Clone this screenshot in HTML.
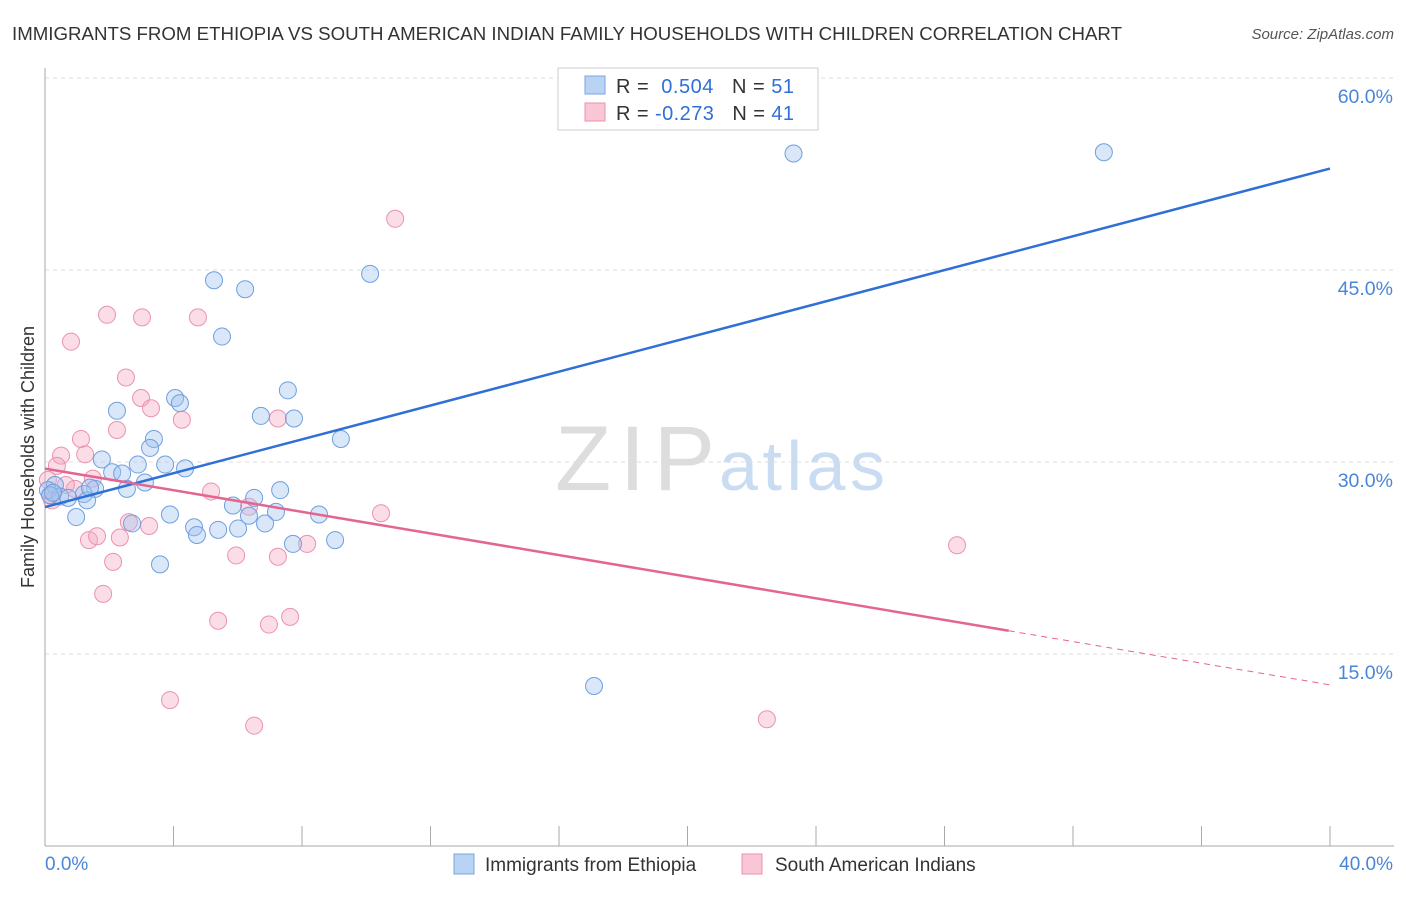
<!DOCTYPE html>
<html><head><meta charset="utf-8"><style>
body{margin:0;background:#fff;font-family:"Liberation Sans",sans-serif}
svg text{font-family:"Liberation Sans",sans-serif}
</style></head><body>
<svg id="c" width="1406" height="892">
<text x="12" y="40" font-size="18" fill="#333" textLength="1110" lengthAdjust="spacingAndGlyphs">IMMIGRANTS FROM ETHIOPIA VS SOUTH AMERICAN INDIAN FAMILY HOUSEHOLDS WITH CHILDREN CORRELATION CHART</text>
<text x="1394" y="39" font-size="15" fill="#555" font-style="italic" text-anchor="end">Source: ZipAtlas.com</text>
<text x="34" y="457" font-size="18" fill="#333" transform="rotate(-90 34 457)" text-anchor="middle">Family Households with Children</text>
<text x="635" y="490" font-size="92" fill="#ddd" font-family="Liberation Serif" text-anchor="middle" textLength="160">ZIP</text>
<text x="802" y="490" font-size="70" fill="#c9dcf2" text-anchor="middle" textLength="166">atlas</text>
<g id="grid"></g><g id="pts"></g><g id="lines"></g>
<g>
<rect x="558" y="68" width="260" height="62" fill="#fff" stroke="#ccc"/>
<rect x="585" y="76" width="20" height="18" fill="#b9d3f5" stroke="#7aa6e0"/>
<text x="616" y="93" font-size="20" fill="#333" textLength="178">R = <tspan fill="#2f6fd6">&#160;0.504</tspan>&#160;&#160;&#160;N = <tspan fill="#2f6fd6">51</tspan></text>
<rect x="585" y="103" width="20" height="18" fill="#f9c6d5" stroke="#ec92ad"/>
<text x="616" y="120" font-size="20" fill="#333" textLength="178">R = <tspan fill="#2f6fd6">-0.273</tspan>&#160;&#160;&#160;N = <tspan fill="#2f6fd6">41</tspan></text>
</g>
<g>
<rect x="454" y="854" width="20" height="20" fill="#b9d3f5" stroke="#7aa6e0"/>
<text x="485" y="871" font-size="19" fill="#333">Immigrants from Ethiopia</text>
<rect x="742" y="854" width="20" height="20" fill="#f9c6d5" stroke="#ec92ad"/>
<text x="775" y="871" font-size="19" fill="#333">South American Indians</text>
</g>
</svg>
<script>
const yTicks=[15,30,45,60];
const yTickLabels=["15.0%","30.0%","45.0%","60.0%"];
const xTickLabels=["0.0%","40.0%"];
const blueX=[23.3,32.96,10.12,5.26,6.23,5.51,7.56,4.05,4.2,2.24,6.72,7.75,9.21,3.39,3.27,1.77,2.89,3.74,4.36,2.09,2.4,3.11,2.55,1.56,1.21,7.32,0.31,0.09,0.47,0.72,1.31,6.51,5.85,7.19,6.35,8.53,3.89,0.97,2.71,4.64,5.39,6.01,6.85,4.73,7.72,9.03,3.58,17.09,0.16,1.4,0.25];
const blueY=[54.1,54.2,44.7,44.2,43.5,39.8,35.6,35.0,34.6,34.0,33.6,33.4,31.8,31.8,31.1,30.2,29.8,29.8,29.5,29.2,29.1,28.4,27.9,27.9,27.5,27.8,28.2,27.8,27.3,27.2,27.0,27.2,26.6,26.1,25.8,25.9,25.9,25.7,25.2,24.9,24.7,24.8,25.2,24.3,23.6,23.9,22.0,12.5,27.4,28.0,27.6];
const pinkX=[10.9,1.93,3.02,4.76,0.81,2.52,2.99,3.3,4.26,2.24,1.12,1.25,0.5,0.37,1.49,0.93,5.17,0.09,0.16,7.25,10.46,2.61,3.24,1.37,1.62,2.33,6.35,5.95,7.25,8.16,2.12,1.81,5.39,6.97,7.63,3.89,6.51,22.47,28.39,0.22,0.65];
const pinkY=[49.0,41.5,41.3,41.3,39.4,36.6,35.0,34.2,33.3,32.5,31.8,30.6,30.5,29.7,28.7,27.9,27.7,28.6,27.4,33.4,26.0,25.3,25.0,23.9,24.2,24.1,26.5,22.7,22.6,23.6,22.2,19.7,17.6,17.3,17.9,11.4,9.4,9.9,23.5,27.0,28.2];
const X=v=>45+v*32.125, Y=v=>654-(v-15)*12.8;
const NS="http://www.w3.org/2000/svg";
function mk(t,a,p){const e=document.createElementNS(NS,t);for(const k in a)e.setAttribute(k,a[k]);p.appendChild(e);return e;}
const grid=document.getElementById('grid');
yTicks.forEach((t,i)=>{
 const l=mk('line',{x1:45,x2:1394,y1:Y(t),y2:Y(t),stroke:'#ddd','stroke-dasharray':'4,4'},grid);
 
 
 const tx=mk('text',{x:1393,y:Y(t)+25,'font-size':19.5,fill:'#4a86d8','text-anchor':'end'},grid);
 tx.textContent=yTickLabels[i];
 
 
});
const ax=mk('line',{x1:45,x2:45,y1:68,y2:846,stroke:'#aaa'},grid);


const bx=mk('line',{x1:45,x2:1394,y1:846,y2:846,stroke:'#aaa'},grid);


for(let i=1;i<=10;i++){const t=mk('line',{x1:X(i*4),x2:X(i*4),y1:826,y2:846,stroke:'#aaa'},grid);
 
 }
[[0,'start',45],[40,'end',1393]].forEach((d,i)=>{const t=mk('text',{x:d[2],y:870,'font-size':19,fill:'#4a86d8','text-anchor':d[1]},grid);t.textContent=xTickLabels[i];
 
 });
const pts=document.getElementById('pts');
pinkX.forEach((x,i)=>{const c=mk('circle',{cx:X(x),cy:Y(pinkY[i]),r:8.5,fill:'rgba(246,170,195,0.4)',stroke:'#ec92ad','stroke-width':1},pts);
 
 });
blueX.forEach((x,i)=>{const c=mk('circle',{cx:X(x),cy:Y(blueY[i]),r:8.5,fill:'rgba(160,195,240,0.4)',stroke:'#6f9fe0','stroke-width':1},pts);
 
 });
function fit(xs,ys){const n=xs.length,mx=xs.reduce((a,b)=>a+b)/n,my=ys.reduce((a,b)=>a+b)/n;let sxy=0,sxx=0;xs.forEach((x,i)=>{sxy+=(x-mx)*(ys[i]-my);sxx+=(x-mx)**2});const b=sxy/sxx;return [my-b*mx,b];}
const lines=document.getElementById('lines');
const [ba,bb]=fit(blueX,blueY);
const bl=mk('line',{x1:X(0),y1:Y(ba),x2:X(40),y2:Y(ba+bb*40),stroke:'#2f6fd6','stroke-width':2.5},lines);


const [pa,pb]=fit(pinkX,pinkY);
const pl=mk('line',{x1:X(0),y1:Y(pa),x2:X(30),y2:Y(pa+pb*30),stroke:'#e4668f','stroke-width':2.5},lines);


const pd=mk('line',{x1:X(30),y1:Y(pa+pb*30),x2:X(40),y2:Y(pa+pb*40),stroke:'#e4668f','stroke-width':1,'stroke-dasharray':'6,5'},lines);


</script>
</body></html>
